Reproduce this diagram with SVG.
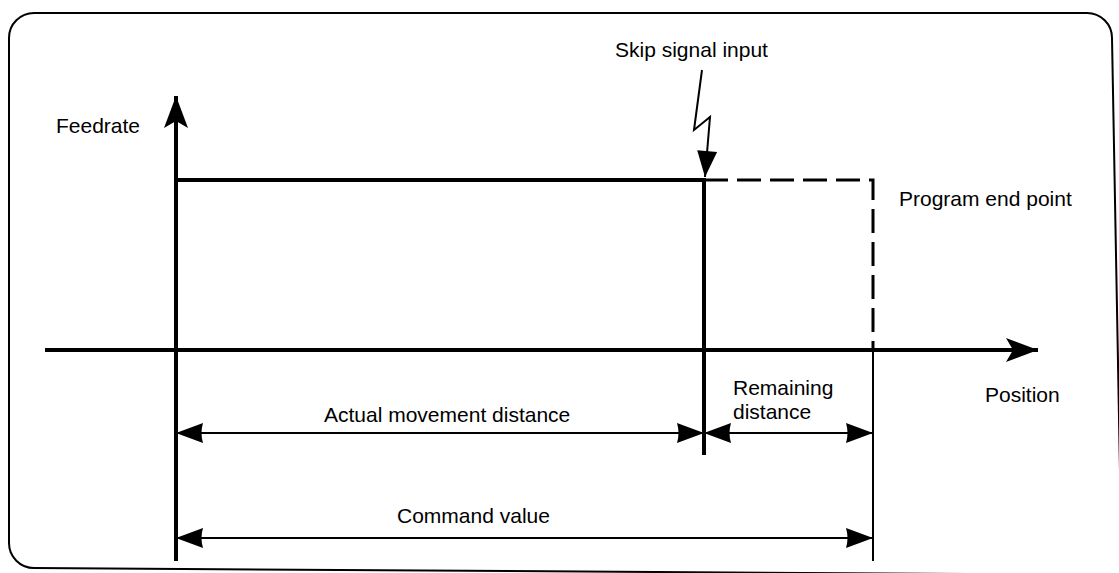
<svg xmlns="http://www.w3.org/2000/svg" width="1119" height="573" viewBox="0 0 1119 573">
<style>
  .lbl { font-family: "Liberation Sans", Arial, sans-serif; font-size: 21px; fill: #000; }
  .thick { stroke: #000; stroke-width: 4; fill: none; }
  .thin { stroke: #000; stroke-width: 2; fill: none; }
  .dash { stroke: #000; stroke-width: 3; fill: none; stroke-dasharray: 24 9; }
</style>
<defs>
  <marker id="dim" markerUnits="userSpaceOnUse" viewBox="-28 -11 29 22" refX="0" refY="0" markerWidth="29" markerHeight="22" orient="auto-start-reverse">
    <path d="M0,0 L-27,-10 Q-24,0 -27,10 Z" fill="#000"/>
  </marker>
  <marker id="axis" markerUnits="userSpaceOnUse" viewBox="-33 -13 34 26" refX="0" refY="0" markerWidth="34" markerHeight="26" orient="auto">
    <path d="M0,0 L-32,-12 L-25,0 L-32,12 Z" fill="#000"/>
  </marker>
  <marker id="bolt" markerUnits="userSpaceOnUse" viewBox="-27 -11 28 22" refX="0" refY="0" markerWidth="28" markerHeight="22" orient="auto">
    <path d="M0,0 L-26,-10 L-26,10 Z" fill="#000"/>
  </marker>
</defs>
<path id="frame" d="M9,543 L9,38 A25,25 0 0 1 34,13 L1087,13 A25,25 0 0 1 1112,38 L1122,580 M9,543 A25,25 0 0 0 34,568 L1122,575" fill="none" stroke="#000" stroke-width="2"/>
<g id="connectors">
  <line id="y-axis" class="thick" x1="176" y1="561" x2="176" y2="96" marker-end="url(#axis)"/>
  <line id="x-axis" class="thick" x1="45" y1="350" x2="1038" y2="350" marker-end="url(#axis)"/>
  <line id="feed" class="thick" x1="176" y1="180" x2="704" y2="180"/>
  <line id="skip-line" class="thick" x1="704" y1="178" x2="704" y2="455"/>
  <polyline id="dashed" class="dash" points="704,180 873,180 873,350"/>
  <line id="end-line" class="thin" x1="873" y1="350" x2="873" y2="561"/>
  <polyline id="bolt-line" class="thin" points="702,70 694,130 710,117 705,177" marker-end="url(#bolt)"/>
  <line id="dim-actual" class="thin" x1="176" y1="433" x2="704" y2="433" marker-start="url(#dim)" marker-end="url(#dim)"/>
  <line id="dim-remain" class="thin" x1="704" y1="433" x2="873" y2="433" marker-start="url(#dim)" marker-end="url(#dim)"/>
  <line id="dim-command" class="thin" x1="176" y1="538" x2="873" y2="538" marker-start="url(#dim)" marker-end="url(#dim)"/>
</g>
<g id="label-skip"><text class="lbl" x="615" y="57">Skip signal input</text></g>
<g id="label-feedrate"><text class="lbl" x="56" y="133">Feedrate</text></g>
<g id="label-end"><text class="lbl" x="899" y="206">Program end point</text></g>
<g id="label-position"><text class="lbl" x="985" y="402">Position</text></g>
<g id="label-remaining"><text class="lbl" x="733" y="395">Remaining</text><text class="lbl" x="733" y="419">distance</text></g>
<g id="label-actual"><text class="lbl" x="324" y="422">Actual movement distance</text></g>
<g id="label-command"><text class="lbl" x="397" y="523">Command value</text></g>
</svg>
